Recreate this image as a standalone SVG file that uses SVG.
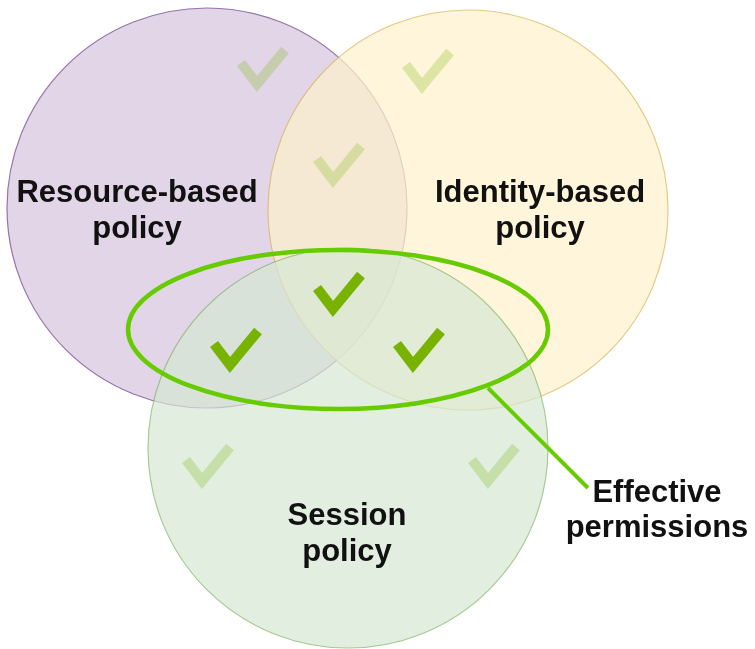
<svg xmlns="http://www.w3.org/2000/svg" xmlns:xlink="http://www.w3.org/1999/xlink" width="755" height="649" viewBox="0 0 755 649">
  <style>
    .lbl { font-family: "Liberation Sans", Arial, Helvetica, sans-serif; font-weight: bold; font-size: 31px; fill: #111111; text-anchor: middle; }
    .chk { fill: none; stroke: #77B300; stroke-width: 10; stroke-linecap: butt; stroke-linejoin: miter; }
    .faded { opacity: 0.25; }
  </style>
  <defs>
    <path id="check" d="M-16,-21 L0,0 L28,-34"/>
  </defs>
  <rect width="755" height="649" fill="#ffffff"/>
  <g id="resource-based">
    <circle cx="207" cy="208" r="200" fill="#e1d5e7" stroke="#9673a6" stroke-width="1.2"/>
  </g>
  <g id="identity-based">
    <circle cx="468" cy="210" r="200" fill="#fff2cc" stroke="#d6b656" stroke-width="1.2" opacity="0.72"/>
  </g>
  <g id="session">
    <circle cx="348" cy="448" r="200" fill="#d5e8d4" stroke="#82b366" stroke-width="1.2" opacity="0.7"/>
  </g>
  <g id="faded-checks" class="chk faded">
    <use xlink:href="#check" href="#check" x="257" y="84"/>
    <use xlink:href="#check" href="#check" x="422" y="86"/>
    <use xlink:href="#check" href="#check" x="333" y="180"/>
    <use xlink:href="#check" href="#check" x="202" y="481"/>
    <use xlink:href="#check" href="#check" x="488" y="481"/>
  </g>
  <g id="effective-checks" class="chk">
    <use xlink:href="#check" href="#check" x="333" y="309"/>
    <use xlink:href="#check" href="#check" x="230" y="365"/>
    <use xlink:href="#check" href="#check" x="413" y="365"/>
  </g>
  <g id="effective-ellipse">
    <ellipse cx="338" cy="329.5" rx="210" ry="79.5" fill="none" stroke="#66CC00" stroke-width="4.5"/>
  </g>
  <g id="connectors">
    <line x1="488" y1="388" x2="588" y2="488" stroke="#66CC00" stroke-width="4"/>
  </g>
  <g id="labels">
    <text class="lbl" x="137" y="202">Resource-based</text>
    <text class="lbl" x="137" y="238">policy</text>
    <text class="lbl" x="540" y="202">Identity-based</text>
    <text class="lbl" x="540" y="238">policy</text>
    <text class="lbl" x="347" y="525">Session</text>
    <text class="lbl" x="347" y="561">policy</text>
  </g>
  <g id="effective-permissions">
    <text class="lbl" x="657" y="502">Effective</text>
    <text class="lbl" x="657" y="537">permissions</text>
  </g>
</svg>
